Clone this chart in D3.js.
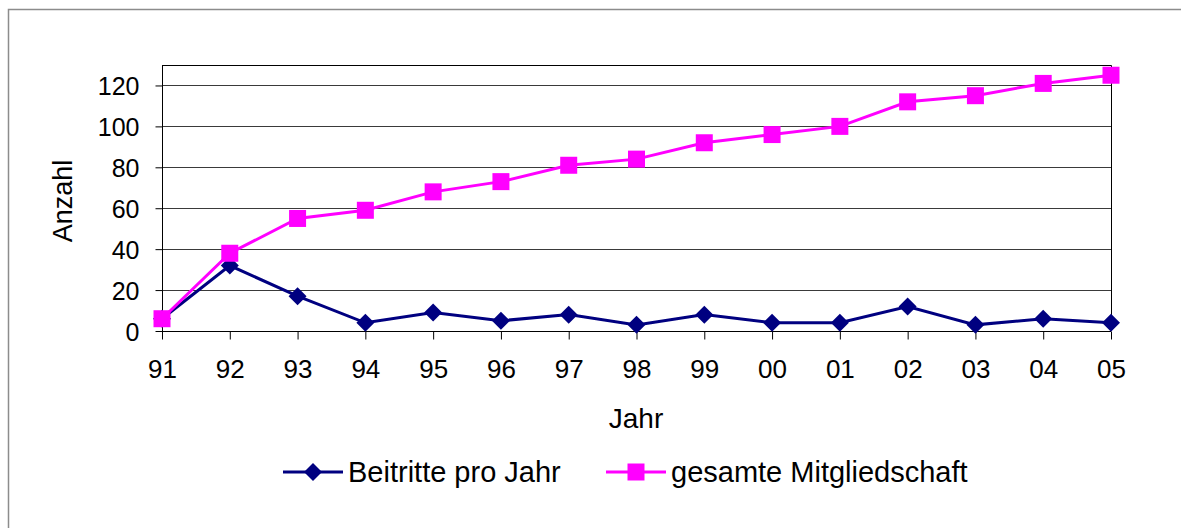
<!DOCTYPE html>
<html>
<head>
<meta charset="utf-8">
<script src="https://cdn.jsdelivr.net/npm/d3@7"></script>
<style>
  body { margin: 0; background: #fff; }
  svg { display: block; font-family: "Liberation Sans", Arial, sans-serif; }
</style>
</head>
<body>
<div id="chart"></div>
<script>
// Jahre (x-Achse)
const years = ["91", "92", "93", "94", "95", "96", "97", "98", "99", "00", "01", "02", "03", "04", "05"];
// Beitritte pro Jahr
const joins = [6, 32, 17, 4, 9, 5, 8, 3, 8, 4, 4, 12, 3, 6, 4];
// gesamte Mitgliedschaft
const total = [6, 38, 55, 59, 68, 73, 81, 84, 92, 96, 100, 112, 115, 121, 125];
const yTicks = [0, 20, 40, 60, 80, 100, 120];

const width = 1181, height = 528;
const plot = { left: 162, right: 1111, top: 65, bottom: 331 };

const svg = d3.select("#chart").append("svg")
    .attr("width", width)
    .attr("height", height);

// outer chart border (runs off the picture at right and bottom)
svg.append("rect")
    .attr("x", 8.5).attr("y", 9.5)
    .attr("width", width + 10).attr("height", height + 10)
    .attr("fill", "none")
    .attr("stroke", "#8c8c8c")
    .attr("stroke-width", 1.5);

const x = d3.scalePoint().domain(years).range([plot.left, plot.right]);
const y = d3.scaleLinear().domain([0, 130]).range([plot.bottom, plot.top]);

// gridlines
svg.append("g")
    .selectAll("line")
    .data(yTicks.filter(d => d > 0))
    .enter()
    .append("line")
    .attr("x1", plot.left).attr("x2", plot.right)
    .attr("y1", d => Math.round(y(d)) + 0.5)
    .attr("y2", d => Math.round(y(d)) + 0.5)
    .attr("stroke", "#3a3a3a")
    .attr("stroke-width", 1);

// plot area top / right border
svg.append("path")
    .attr("d", `M${plot.left},${plot.top + 0.5}H${plot.right + 0.5}V${plot.bottom}`)
    .attr("fill", "none")
    .attr("stroke", "#000")
    .attr("stroke-width", 1);

// y axis
const yAxis = svg.append("g")
    .attr("transform", `translate(${plot.left + 0.5},0)`)
    .call(d3.axisLeft(y).tickValues(yTicks).tickSize(7).tickPadding(16));
yAxis.select(".domain").attr("stroke", "#000").attr("d", `M0,${plot.top}V${plot.bottom}`);
yAxis.selectAll(".tick line").attr("stroke", "#000");
yAxis.selectAll(".tick text")
    .attr("font-size", 25)
    .attr("font-family", "Liberation Sans, Arial, sans-serif")
    .attr("fill", "#000")
    .attr("dy", "0.36em");

// x axis
const xAxis = svg.append("g")
    .attr("transform", `translate(0,${plot.bottom + 0.5})`)
    .call(d3.axisBottom(x).tickSize(8).tickPadding(20));
xAxis.select(".domain").attr("stroke", "#000").attr("d", `M${plot.left},0H${plot.right}`);
xAxis.selectAll(".tick line").attr("stroke", "#000");
xAxis.selectAll(".tick text")
    .attr("font-size", 26)
    .attr("font-family", "Liberation Sans, Arial, sans-serif")
    .attr("fill", "#000")
    .attr("dy", "0.71em");

// axis titles
svg.append("text")
    .attr("transform", "translate(72,201) rotate(-90)")
    .attr("text-anchor", "middle")
    .attr("font-size", 27)
    .text("Anzahl");

svg.append("text")
    .attr("x", 636).attr("y", 428)
    .attr("text-anchor", "middle")
    .attr("font-size", 28)
    .text("Jahr");

const series = [
    { name: "Beitritte pro Jahr", values: joins, color: "#000080", marker: "diamond" },
    { name: "gesamte Mitgliedschaft", values: total, color: "#ff00ff", marker: "square" }
];

const line = d3.line()
    .x((d, i) => x(years[i]))
    .y(d => y(d));

function markerPath(type) {
    if (type === "diamond") return "M0,-9L9,0L0,9L-9,0Z";
    return "M-8.5,-8.5H8.5V8.5H-8.5Z";
}

series.forEach(function (s) {
    const g = svg.append("g");
    g.append("path")
        .datum(s.values)
        .attr("d", line)
        .attr("fill", "none")
        .attr("stroke", s.color)
        .attr("stroke-width", 3);
    g.selectAll(".pt")
        .data(s.values)
        .enter()
        .append("path")
        .attr("class", "pt")
        .attr("transform", (d, i) => `translate(${x(years[i])},${y(d)})`)
        .attr("d", markerPath(s.marker))
        .attr("fill", s.color);
});

// legend
const legendItems = [
    { s: series[0], x: 283 },
    { s: series[1], x: 606 }
];
const legendY = 472;
legendItems.forEach(function (it) {
    const g = svg.append("g").attr("transform", `translate(${it.x},${legendY})`);
    g.append("line")
        .attr("x1", 0).attr("x2", 60)
        .attr("stroke", it.s.color)
        .attr("stroke-width", 3);
    g.append("path")
        .attr("transform", "translate(30,0)")
        .attr("d", markerPath(it.s.marker))
        .attr("fill", it.s.color);
    g.append("text")
        .attr("x", 65).attr("y", 10)
        .attr("font-size", 29)
        .text(it.s.name);
});
</script>
</body>
</html>
